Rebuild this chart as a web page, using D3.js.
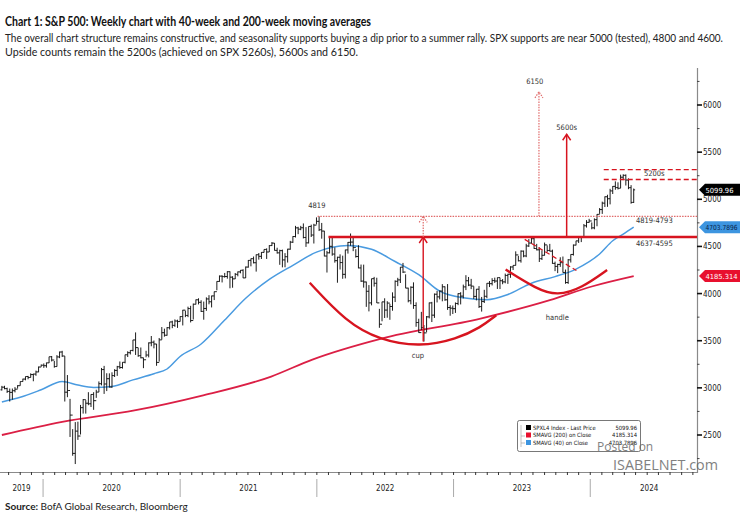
<!DOCTYPE html>
<html><head><meta charset="utf-8">
<script src="https://cdn.jsdelivr.net/npm/d3@7"></script>
<style>body{margin:0;background:#fff}svg{display:block}</style>
</head><body><svg id="c" width="740" height="530"></svg>
<script>
// ---------------- DATA ----------------
const firstWeek = "2019-09-13"; // weekly bars, one per Friday
const closes = [
3007,2992,2962,2952,2970,2986,3023,3067,3093,3120,3110,3141,3146,3169,3221,3240,
3235,3265,3330,3295,3226,3328,3380,3338,2954,2972,2711,2305,2541,2489,2790,2875,2837,2831,2930,2864,2955,3044,3194,3041,3097,3009,3130,3185,3224,3216,3271,3351,3373,3397,3508,3427,3341,3319,3298,3348,3477,3484,3465,3270,3509,3585,3558,3638,3699,3663,3709,3703,3756,
3824,3768,3841,3714,3887,3934,3907,3811,3842,3943,3913,3975,4020,4129,4185,4180,4181,4232,4174,4156,4204,4230,4247,4166,4281,4352,4370,4327,4412,4395,4437,4468,4441,4509,4535,4458,4432,4455,4357,4391,4471,4545,4605,4697,4683,4698,4595,4538,4712,4621,4726,4766,
4677,4663,4398,4432,4501,4419,4349,4385,4329,4204,4463,4543,4546,4488,4393,4272,4132,4123,4024,3901,4158,4109,3901,3675,3912,3825,3899,3863,3962,4130,4145,4280,4228,4058,3924,4067,3873,3693,3586,3640,3583,3753,3901,3771,3993,3965,4026,4072,3934,3852,3845,3840,
3895,3999,3973,4071,4136,4090,4079,3970,4046,3862,3917,3971,4109,4105,4138,4133,4169,4136,4124,4192,4205,4282,4299,4410,4348,4450,4399,4505,4536,4582,4478,4464,4370,4406,4516,4457,4450,4320,4288,4309,4328,4224,4117,4358,4415,4514,4559,4595,4604,4719,4755,4770,
4697,4784,4840,4891,4959,5027,5006,5089,5137,5124,5117,5234,5254,5204,5123,4967,5100];
const highs = [
3021,3022,3002,2993,2993,3008,3028,3067,3097,3120,3127,3154,3150,3183,3226,3248,
3259,3268,3330,3338,3285,3347,3385,3393,3337,3136,2883,2562,2637,2641,2819,2880,2870,2954,2932,2954,2980,3068,3211,3233,3155,3154,3165,3198,3233,3280,3272,3352,3388,3399,3509,3588,3425,3428,3320,3393,3482,3550,3502,3466,3529,3645,3628,3644,3699,3712,3726,3723,3760,
3827,3819,3861,3870,3894,3937,3950,3929,3915,3960,3983,3978,4021,4130,4192,4194,4219,4238,4236,4184,4218,4234,4249,4258,4287,4356,4372,4393,4415,4430,4440,4468,4480,4513,4546,4536,4486,4465,4466,4429,4475,4559,4608,4718,4708,4718,4744,4705,4713,4731,4740,4808,
4819,4749,4665,4453,4596,4590,4490,4391,4416,4402,4465,4547,4637,4593,4471,4513,4308,4307,4127,4090,4158,4177,4168,3838,3913,3950,3919,3891,4013,4140,4167,4281,4325,4204,4062,4077,4119,3907,3733,3806,3666,3762,3905,3912,4001,4028,4034,4100,4076,4101,3877,3873,
3906,4003,4015,4095,4195,4176,4156,4077,4049,4079,3964,4040,4110,4133,4163,4169,4170,4169,4154,4212,4210,4290,4299,4448,4400,4458,4456,4528,4578,4607,4594,4527,4490,4458,4541,4511,4527,4466,4339,4316,4385,4393,4255,4366,4416,4521,4560,4596,4609,4738,4779,4793,
4754,4798,4842,4907,4975,5030,5048,5111,5140,5190,5180,5261,5265,5264,5222,5150,5114];
const lows = [
2972,2985,2946,2855,2874,2952,2992,3023,3066,3080,3091,3110,3070,3128,3166,3223,
3212,3214,3263,3280,3214,3225,3315,3328,2855,2901,2479,2280,2192,2448,2505,2727,2727,2816,2797,2767,2894,2955,3026,2936,2966,3004,3001,3115,3127,3201,3204,3260,3327,3354,3387,3349,3329,3313,3209,3324,3323,3441,3419,3234,3279,3511,3543,3553,3619,3633,3647,3636,3703,
3662,3750,3750,3694,3725,3885,3885,3805,3723,3817,3886,3853,3931,4035,4125,4118,4169,4158,4056,4062,4154,4183,4215,4164,4165,4275,4289,4320,4233,4360,4367,4435,4367,4441,4505,4457,4424,4305,4278,4279,4329,4465,4537,4595,4630,4672,4585,4495,4532,4600,4531,4733,
4663,4582,4395,4223,4426,4401,4328,4115,4255,4157,4161,4424,4506,4450,4381,4268,4124,4063,3859,3811,3875,4074,3900,3637,3706,3741,3744,3722,3818,3910,4079,4112,4218,4057,3907,3886,3838,3648,3584,3613,3491,3590,3737,3698,3742,3906,3938,3918,3923,3827,3765,3783,
3795,3877,3885,3949,4037,4079,4047,3943,3928,3847,3809,3900,3950,4069,4086,4113,4049,4048,4099,4109,4103,4167,4250,4298,4341,4328,4385,4386,4494,4528,4474,4458,4335,4356,4403,4442,4447,4316,4238,4217,4283,4223,4104,4103,4329,4403,4511,4537,4546,4599,4700,4751,
4682,4682,4714,4845,4845,4918,4920,4946,5056,5101,5104,5118,5203,5146,5107,4953,4961];
const firstOpen = 2979;

const ma40Dates = ["2019-09-13","2019-11-01","2019-12-27","2020-02-21","2020-04-03","2020-05-15","2020-07-03","2020-08-28","2020-10-23","2020-11-27","2020-12-31","2021-02-26","2021-04-30","2021-06-25","2021-08-27","2021-10-29","2021-12-31","2022-03-25","2022-05-27","2022-07-29","2022-09-30","2022-11-25","2023-01-27","2023-03-31","2023-05-26","2023-07-28","2023-09-29","2023-11-24","2024-01-26","2024-03-01","2024-03-29","2024-04-26"];
const ma40Values = [2850,2900,2980,3068,3030,3005,3015,3085,3150,3200,3330,3465,3720,3950,4150,4300,4440,4510,4470,4340,4200,4025,3955,3935,3990,4110,4180,4260,4420,4560,4630,4704];

const ma200Dates = ["2019-09-13","2020-02-21","2020-09-01","2021-02-26","2021-09-01","2021-12-20","2022-06-20","2023-03-14","2023-09-15","2024-01-05","2024-04-26"];
const ma200Values = [2500,2640,2760,2915,3120,3300,3520,3735,3930,4075,4185];

const yTicks = [2500,3000,3500,4000,4500,5000,5500,6000];
const yMinorTicks = [2250,2750,3250,3750,4250,4750,5250,5750,6250];
const years = ["2019","2020","2021","2022","2023","2024"];

const lastPrice = 5099.96, lastMA200 = 4185.314, lastMA40 = 4703.7896;
const legendRows = [
  {label:"SPXL4 Index - Last Price", value:"5099.96", color:"#000"},
  {label:"SMAVG (200)  on Close", value:"4185.314", color:"#e8102e"},
  {label:"SMAVG (40)  on Close", value:"4703.7896", color:"#3d95e0"}];

// annotation levels (index values) and dates
const level4819 = 4819, level4600 = 4600, level5200a = 5315, level5200b = 5210;
const cupArc = [["2021-12-13",4115],["2022-03-20",3700],["2022-06-17",3508],["2022-10-04",3432],["2023-01-10",3520],["2023-03-14",3640],["2023-04-25",3770]];
const handleArc = [["2023-05-20",4255],["2023-08-10",4050],["2023-10-05",3975],["2023-12-10",4060],["2024-02-15",4250]];
const handleTrend = [["2023-07-10",4575],["2023-11-25",4245]];

// ---------------- CHART ----------------
const svg = d3.select("#c");
const parse = d3.utcParse("%Y-%m-%d");
const x = d3.scaleUtc().domain([parse("2019-09-08"), parse("2024-10-12")]).range([0, 697]);
const y = d3.scaleLinear().domain([2500, 6000]).range([435, 105]);
const t0 = parse(firstWeek);
const weekDate = i => d3.utcDay.offset(t0, i*7);

const FONT = "'DejaVu Sans Condensed','DejaVu Sans',sans-serif";
const TFONT = "Lato,'Open Sans',sans-serif";

// Title + subtitle
svg.append("text").attr("x",5).attr("y",26).attr("font-family",TFONT).attr("font-weight","bold")
  .attr("font-size",12.5).attr("fill","#111").attr("textLength",366).attr("lengthAdjust","spacingAndGlyphs")
  .text("Chart 1: S&P 500: Weekly chart with 40-week and 200-week moving averages");
svg.append("text").attr("x",5).attr("y",42).attr("font-family",TFONT).attr("font-size",11).attr("fill","#222")
  .attr("textLength",718).attr("lengthAdjust","spacingAndGlyphs")
  .text("The overall chart structure remains constructive, and seasonality supports buying a dip prior to a summer rally. SPX supports are near 5000 (tested), 4800 and 4600.");
svg.append("text").attr("x",5).attr("y",56).attr("font-family",TFONT).attr("font-size",11).attr("fill","#222")
  .attr("textLength",353).attr("lengthAdjust","spacingAndGlyphs")
  .text("Upside counts remain the 5200s (achieved on SPX 5260s), 5600s and 6150.");

// Right axis
const ax = svg.append("g");
ax.append("line").attr("x1",697.5).attr("x2",697.5).attr("y1",68).attr("y2",473).attr("stroke","#8a8a8a").attr("stroke-width",1.2);
ax.selectAll("line.maj").data(yTicks).join("line").attr("class","maj")
  .attr("x1",697).attr("x2",702).attr("y1",d=>y(d)).attr("y2",d=>y(d)).attr("stroke","#111").attr("stroke-width",1.6);
ax.selectAll("line.min").data(yMinorTicks).join("line").attr("class","min")
  .attr("x1",697).attr("x2",699.5).attr("y1",d=>y(d)).attr("y2",d=>y(d)).attr("stroke","#444").attr("stroke-width",1);
ax.selectAll("text").data(yTicks).join("text").attr("x",703).attr("y",d=>y(d)+3)
  .attr("font-family",FONT).attr("font-size",8).attr("fill","#222").text(d=>d);

// Bottom axis
const xa = svg.append("g");
xa.append("line").attr("x1",0).attr("x2",697).attr("y1",472.5).attr("y2",472.5).attr("stroke","#8a8a8a").attr("stroke-width",1.2);
const months = d3.utcMonth.range(parse("2019-09-01"), parse("2024-10-12"));
xa.selectAll("line.mt").data(months).join("line").attr("class","mt")
  .attr("x1",d=>x(d)).attr("x2",d=>x(d)).attr("y1",472).attr("y2",475).attr("stroke","#333").attr("stroke-width",1);
const yearStarts = years.slice(1).map(yy=>parse(yy+"-01-01"));
xa.selectAll("line.yd").data(yearStarts).join("line").attr("class","yd")
  .attr("x1",d=>x(d)).attr("x2",d=>x(d)).attr("y1",479).attr("y2",497).attr("stroke","#aaa").attr("stroke-width",1);
xa.selectAll("text").data(years).join("text")
  .attr("x",(yy)=>{const a=Math.max(0,x(parse(yy+"-01-01"))), b=Math.min(708,x(parse((+yy+1)+"-01-01"))); return (a+b)/2;})
  .attr("y",491).attr("text-anchor","middle").attr("font-family",FONT).attr("font-size",8).attr("fill","#222").text(d=>d);

// Moving averages
const line = d3.line().x(d=>x(parse(d[0]))).y(d=>y(d[1])).curve(d3.curveMonotoneX);
svg.append("path").attr("d",line(ma200Dates.map((d,i)=>[d,ma200Values[i]])))
  .attr("fill","none").attr("stroke","#db1f45").attr("stroke-width",1.8);
svg.append("path").attr("d",line(ma40Dates.map((d,i)=>[d,ma40Values[i]])))
  .attr("fill","none").attr("stroke","#4a9be0").attr("stroke-width",1.5);

// OHLC bars
const bars = svg.append("g").attr("stroke","#111").attr("stroke-width",0.95);
closes.forEach((c,i)=>{
  const xi = x(weekDate(i)), o = i===0 ? firstOpen : closes[i-1];
  bars.append("line").attr("x1",xi).attr("x2",xi).attr("y1",y(highs[i])).attr("y2",y(lows[i]));
  bars.append("line").attr("x1",xi-1.4).attr("x2",xi).attr("y1",y(o)).attr("y2",y(o));
  bars.append("line").attr("x1",xi).attr("x2",xi+1.4).attr("y1",y(c)).attr("y2",y(c));
});

// Annotations
const RED = "#d7141f", LRED = "#e06a6a";
const ann = svg.append("g");
const hline = (d0, v, dash, w, col) => ann.append("line").attr("x1",x(parse(d0))).attr("x2",697).attr("y1",y(v)).attr("y2",y(v))
  .attr("stroke",col).attr("stroke-width",w).attr("stroke-dasharray",dash);
hline("2022-01-03", level4819, "1.5,1.2", 1.2, LRED);
hline("2022-02-01", level4600, null, 2.4, RED);
hline("2024-02-06", level5200a, "5,3", 1.3, RED);
hline("2024-02-06", level5200b, "5,3", 1.3, RED);

function arrow(d0, v0, v1, dash, w, col){
  const xx = x(parse(d0)), ya = y(v0), yb = y(v1);
  ann.append("line").attr("x1",xx).attr("x2",xx).attr("y1",ya).attr("y2",yb).attr("stroke",col).attr("stroke-width",w).attr("stroke-dasharray",dash);
  ann.append("path").attr("d",`M${xx-4},${yb+6}L${xx},${yb}L${xx+4},${yb+6}`).attr("fill","none").attr("stroke",col).attr("stroke-width",w).attr("stroke-dasharray",dash);
}
arrow("2022-10-12", 3491, level4600, null, 1.4, RED);
arrow("2022-10-12", level4600, level4819, "1.5,1.2", 1.2, LRED);
arrow("2023-10-30", level4600, 5690, null, 1.5, RED);
arrow("2023-08-17", level4819, 6140, "1.5,1.2", 1.2, LRED);

const arcLine = d3.line().x(d=>x(parse(d[0]))).y(d=>y(d[1])).curve(d3.curveBasis);
ann.append("path").attr("d",arcLine(cupArc)).attr("fill","none").attr("stroke",RED).attr("stroke-width",2.4);
ann.append("path").attr("d",arcLine(handleArc)).attr("fill","none").attr("stroke",RED).attr("stroke-width",2.4);
ann.append("path").attr("d",arcLine(handleTrend)).attr("fill","none").attr("stroke",RED).attr("stroke-width",1.3).attr("stroke-dasharray","5,3");

const label = (d0, v, txt, anchor="middle") => ann.append("text").attr("x",x(parse(d0))).attr("y",y(v)).attr("text-anchor",anchor)
  .attr("font-family",FONT).attr("font-size",7.5).attr("fill","#333").text(txt);
label("2022-01-01", 4905, "4819");
label("2024-06-20", 4745, "4819-4793");
label("2024-06-20", 4500, "4637-4595");
label("2024-06-20", 5250, "5200s");
label("2023-10-30", 5740, "5600s");
label("2023-08-06", 6220, "6150");
label("2022-09-28", 3318, "cup");
label("2023-10-05", 3715, "handle");

// Price tags on the axis
function tag(v, txt, fill, tc){
  const yy = y(v);
  svg.append("path").attr("d",`M699,${yy}L705,${yy-6}L740,${yy-6}L740,${yy+6}L705,${yy+6}Z`).attr("fill",fill);
  svg.append("text").attr("x",705.5).attr("y",yy+3).attr("font-family",FONT).attr("font-size",7).attr("fill",tc)
    .attr("textLength",Math.min(32, txt.length*4)).attr("lengthAdjust","spacingAndGlyphs").text(txt);
}
tag(lastPrice, "5099.96", "#000", "#fff");
tag(lastMA40, "4703.7896", "#3d95e0", "#0a1f4a");
tag(lastMA200, "4185.314", "#e8102e", "#fff");

// Legend
const lg = svg.append("g");
lg.append("rect").attr("x",517.5).attr("y",420.5).attr("width",123).attr("height",31).attr("rx",2)
  .attr("fill","#fff").attr("stroke","#555").attr("stroke-width",0.8);
legendRows.forEach((r,i)=>{
  const yy = 428 + i*7.5;
  lg.append("rect").attr("x",526).attr("y",yy-3).attr("width",5).attr("height",5).attr("fill",r.color);
  lg.append("text").attr("x",533).attr("y",yy+1.8).attr("font-family",FONT).attr("font-size",5.8).attr("fill","#111").text(r.label);
  lg.append("text").attr("x",637).attr("y",yy+1.8).attr("text-anchor","end").attr("font-family",FONT).attr("font-size",5.8).attr("fill","#111").text(r.value);
});
lg.append("path").attr("d","M521,425V447M521,436H525M521,443H525").attr("stroke","#999").attr("stroke-width",0.6).attr("fill","none");

// Watermark
svg.append("text").attr("x",597).attr("y",451).attr("font-family","'Open Sans',sans-serif").attr("font-size",12).attr("fill","#6b6b6b").attr("opacity",0.85).text("Posted on");
svg.append("text").attr("x",613).attr("y",470).attr("font-family","'Open Sans',sans-serif").attr("font-size",14).attr("fill","#6b6b6b").attr("opacity",0.85)
  .attr("textLength",105).attr("lengthAdjust","spacingAndGlyphs").text("ISABELNET.com");

// Source
const src = svg.append("text").attr("x",5).attr("y",510).attr("font-family",TFONT).attr("font-size",10).attr("fill","#222");
src.append("tspan").attr("font-weight","bold").text("Source: ");
src.append("tspan").text("BofA Global Research, Bloomberg");
</script></body></html>
